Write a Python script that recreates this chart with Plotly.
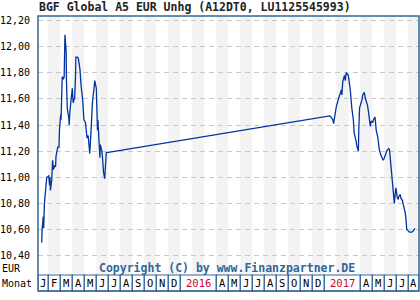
import calendar
import pandas as pd
import plotly.graph_objects as go

title_text = "BGF Global A5 EUR Unhg (A12DT0, LU1125545993)"
copyright_text = "Copyright (C) by www.Finanzpartner.DE"

dates = [
    "2015-01-15", "2015-01-16", "2015-01-19", "2015-01-20", "2015-01-22", "2015-01-26",
    "2015-01-28", "2015-02-02", "2015-02-04", "2015-02-05", "2015-02-06", "2015-02-09",
    "2015-02-10", "2015-02-11", "2015-02-13", "2015-02-16", "2015-02-18", "2015-02-19",
    "2015-02-23", "2015-02-26", "2015-02-27", "2015-03-02", "2015-03-03", "2015-03-05",
    "2015-03-06", "2015-03-09", "2015-03-11", "2015-03-13", "2015-03-16", "2015-03-17",
    "2015-03-19", "2015-03-23", "2015-03-24", "2015-03-26", "2015-03-30", "2015-04-01",
    "2015-04-03", "2015-04-07", "2015-04-09", "2015-04-10", "2015-04-14", "2015-04-16",
    "2015-04-20", "2015-04-21", "2015-04-23", "2015-04-27", "2015-04-28", "2015-04-30",
    "2015-05-04", "2015-05-06", "2015-05-08", "2015-05-11", "2015-05-13", "2015-05-15",
    "2015-05-18", "2015-05-20", "2015-05-22", "2015-05-26", "2015-05-28", "2015-06-01",
    "2015-06-02", "2015-06-04", "2015-06-05", "2015-06-08", "2015-06-10", "2015-06-11",
    "2015-06-15", "2015-06-17", "2015-06-19", "2015-06-22", "2015-06-24", "2015-06-26",
    "2015-07-01",
    "2017-01-15", "2017-01-19", "2017-01-23", "2017-01-25", "2017-01-27", "2017-01-30",
    "2017-02-01", "2017-02-06", "2017-02-09", "2017-02-13", "2017-02-14", "2017-02-16",
    "2017-02-20", "2017-02-22", "2017-02-24", "2017-03-01", "2017-03-06", "2017-03-08",
    "2017-03-10", "2017-03-14", "2017-03-16", "2017-03-20", "2017-03-21", "2017-03-23",
    "2017-03-27", "2017-03-28", "2017-03-30", "2017-04-03", "2017-04-05", "2017-04-07",
    "2017-04-11", "2017-04-13", "2017-04-18", "2017-04-19", "2017-04-21", "2017-04-24",
    "2017-04-26", "2017-04-28", "2017-05-02", "2017-05-04", "2017-05-08", "2017-05-09",
    "2017-05-11", "2017-05-15", "2017-05-17", "2017-05-19", "2017-05-23", "2017-05-25",
    "2017-05-29", "2017-05-31", "2017-06-02", "2017-06-05", "2017-06-07", "2017-06-09",
    "2017-06-12", "2017-06-14", "2017-06-16", "2017-06-19", "2017-06-22", "2017-06-23",
    "2017-06-26", "2017-06-28", "2017-06-30", "2017-07-03", "2017-07-06", "2017-07-07",
    "2017-07-11", "2017-07-13", "2017-07-17", "2017-07-19", "2017-07-21", "2017-07-24",
    "2017-07-26", "2017-07-28", "2017-08-01", "2017-08-04", "2017-08-10", "2017-08-14",
    "2017-08-18",
]
prices = [
    10.50, 10.60, 10.70, 10.61, 10.80, 10.98,
    11.00, 11.01, 10.94, 11.00, 10.90, 10.98,
    11.11, 11.13, 11.06, 11.09, 11.08, 11.16,
    11.23, 11.23, 11.36, 11.48, 11.44, 11.60,
    11.77, 11.75, 11.77, 12.09, 11.97, 11.73,
    11.53, 11.45, 11.40, 11.51, 11.62, 11.68,
    11.57, 11.61, 11.77, 11.92, 11.92, 11.91,
    11.83, 11.78, 11.70, 11.59, 11.53, 11.44,
    11.42, 11.31, 11.30, 11.32, 11.25, 11.18,
    11.33, 11.48, 11.57, 11.68, 11.74, 11.68,
    11.54, 11.36, 11.44, 11.31, 11.15, 11.25,
    11.20, 11.13, 11.04, 10.99, 11.11, 11.19,
    11.19,
    11.47, 11.46, 11.44, 11.41, 11.46, 11.50,
    11.54, 11.60, 11.64, 11.67, 11.63, 11.73,
    11.78, 11.74, 11.80, 11.78, 11.67, 11.57,
    11.53, 11.44, 11.34, 11.29, 11.28, 11.24,
    11.20, 11.35, 11.53, 11.57, 11.59, 11.63,
    11.65, 11.61, 11.56, 11.55, 11.51, 11.44,
    11.39, 11.43, 11.42, 11.44, 11.46, 11.43,
    11.36, 11.31, 11.23, 11.21, 11.17, 11.16,
    11.13, 11.14, 11.16, 11.18, 11.20, 11.21,
    11.22, 11.21, 11.14, 11.02, 10.92, 10.85,
    10.80, 10.87, 10.92, 10.85, 10.83, 10.85,
    10.87, 10.84, 10.82, 10.79, 10.77, 10.73,
    10.68, 10.60, 10.59, 10.58, 10.58, 10.59,
    10.61,
]

month_letters = ["J", "F", "M", "A", "M", "J", "J", "A", "S", "O", "N", "D"]
years = [2015, 2016, 2017]
last_month = 8  # August 2017
y_ticks = [10.40, 10.60, 10.80, 11.00, 11.20, 11.40, 11.60, 11.80, 12.00, 12.20]

START_YEAR = years[0]


def month_pos(ts):
    ts = pd.Timestamp(ts)
    dim = calendar.monthrange(ts.year, ts.month)[1]
    return (ts.year - START_YEAR) * 12 + (ts.month - 1) + (ts.day - 1) / dim


xpos = [month_pos(d) for d in dates]
n_months = (years[-1] - START_YEAR) * 12 + last_month
x_min, x_max = 0.142, n_months - 0.11
y_min, y_max = 10.26, 12.234

frame_col = "#336699"
line_col = "#0033a0"
shade_col = "#f3f3f3"
mono = "DejaVu Sans Mono"

fig = go.Figure()
fig.add_trace(go.Scatter(x=xpos, y=prices, mode="lines",
                         line=dict(color=line_col, width=1.3), hoverinfo="skip"))

shapes = []
# alternating month bands
for m in range(n_months):
    if m % 2 == 1:
        shapes.append(dict(type="rect", xref="x", yref="paper", x0=m, x1=min(m + 1, x_max),
                           y0=0, y1=1, fillcolor=shade_col, line=dict(width=0), layer="below"))

# month row
plot_h = 258.0
row_top = -1 / plot_h
row_bot = -17 / plot_h
row_mid = -9 / plot_h
annotations = []
m = 0
while m < n_months:
    yr = START_YEAR + m // 12
    mi = m % 12
    if mi == 0 and yr != START_YEAR:
        span, label, col = 3, str(yr), "#cc0033"
    else:
        span, label, col = 1, month_letters[mi], "#000000"
    x0 = max(m, x_min)
    x1 = min(m + span, x_max)
    shapes.append(dict(type="rect", xref="x", yref="paper", x0=x0, x1=x1,
                       y0=row_bot, y1=row_top, fillcolor="white",
                       line=dict(color=frame_col, width=1.2)))
    annotations.append(dict(x=(x0 + x1) / 2, y=row_mid, xref="x", yref="paper",
                            xanchor="center", yanchor="middle",
                            text=label, showarrow=False,
                            font=dict(family=mono, size=10.5, color=col)))
    m += span

# frame
shapes.append(dict(type="rect", xref="paper", yref="paper", x0=0, x1=1, y0=row_bot, y1=1,
                   line=dict(color=frame_col, width=1.5), fillcolor="rgba(0,0,0,0)"))

annotations += [
    dict(x=-0.0026, y=(274 - 7) / plot_h, xref="paper", yref="paper",
         xanchor="left", yanchor="middle",
         text="<b>" + title_text + "</b>", showarrow=False,
         font=dict(family=mono, size=11.5, color="#222222")),
    dict(x=(227 - 38) / 381, y=(274 - 268) / plot_h, xref="paper", yref="paper",
         xanchor="center", yanchor="middle",
         text="<b>" + copyright_text + "</b>", showarrow=False,
         font=dict(family=mono, size=11.5, color=frame_col)),
    dict(x=-38 / 381, y=(274 - 268) / plot_h, xref="paper", yref="paper",
         xanchor="left", yanchor="middle",
         text="EUR", showarrow=False, font=dict(family=mono, size=10, color="#000")),
    dict(x=-38 / 381, y=row_mid, xref="paper", yref="paper",
         xanchor="left", yanchor="middle",
         text="Monat", showarrow=False, font=dict(family=mono, size=10, color="#000")),
]

fig.update_layout(
    width=420, height=300,
    margin=dict(l=38, r=1, t=16, b=26),
    paper_bgcolor="white", plot_bgcolor="white",
    separators=",.",
    showlegend=False,
    shapes=shapes,
    annotations=annotations,
    xaxis=dict(range=[x_min, x_max], showgrid=False, showticklabels=False,
               zeroline=False, showline=False, ticks=""),
    yaxis=dict(range=[y_min, y_max], tickvals=y_ticks, tickformat=".2f",
               showgrid=True, gridcolor="#c8c8c8", griddash="5px,4px", gridwidth=1,
               zeroline=False, showline=False, ticks="outside", ticklen=5,
               tickcolor="rgba(0,0,0,0)",
               tickfont=dict(family=mono, size=10, color="#000")),
)

fig.write_html("out.html")
